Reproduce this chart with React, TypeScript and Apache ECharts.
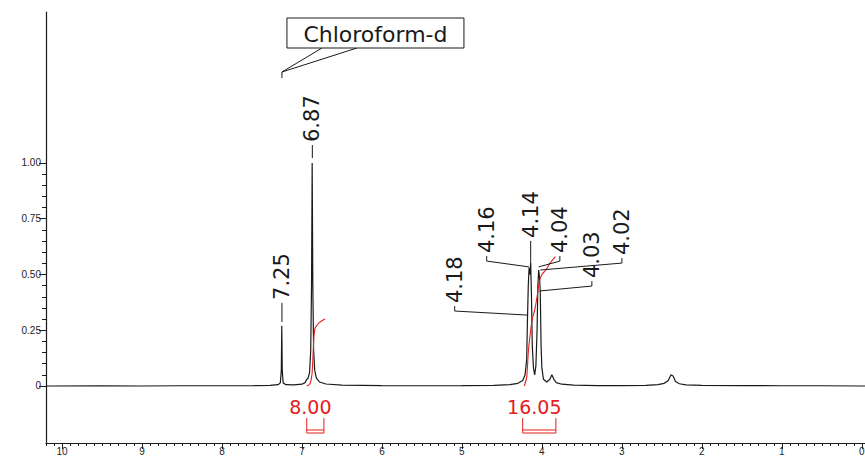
import React, { useEffect, useRef } from 'react';
import * as echarts from 'echarts';

// 1H NMR spectrum (chemical shift in ppm, normalized intensity)
const spectrum: [number, number][] = [
  [10.2, 0.0], [9.5, 0.001], [9.0, 0.0], [8.5, 0.001], [8.0, 0.001], [7.6, 0.002],
  [7.4, 0.003], [7.3, 0.006], [7.27, 0.014], [7.258, 0.07], [7.252, 0.27], [7.246, 0.07],
  [7.235, 0.014], [7.2, 0.006], [7.1, 0.005], [7.0, 0.008], [6.96, 0.015], [6.94, 0.03],
  [6.925, 0.033], [6.905, 0.06], [6.89, 0.16], [6.88, 0.45], [6.872, 1.0], [6.864, 0.45],
  [6.854, 0.16], [6.84, 0.07], [6.82, 0.035], [6.78, 0.018], [6.7, 0.009], [6.5, 0.004],
  [6.0, 0.002], [5.5, 0.001], [5.0, 0.002], [4.6, 0.003], [4.4, 0.006], [4.3, 0.012],
  [4.24, 0.025], [4.21, 0.05], [4.19, 0.12], [4.18, 0.3], [4.17, 0.45], [4.16, 0.53],
  [4.15, 0.5], [4.14, 0.55], [4.13, 0.4], [4.12, 0.18], [4.105, 0.08], [4.09, 0.05],
  [4.075, 0.09], [4.06, 0.25], [4.05, 0.45], [4.04, 0.52], [4.03, 0.49], [4.02, 0.42],
  [4.01, 0.18], [4.0, 0.08], [3.98, 0.03], [3.94, 0.018], [3.9, 0.03], [3.875, 0.05],
  [3.85, 0.03], [3.82, 0.015], [3.75, 0.008], [3.6, 0.004], [3.3, 0.002], [3.0, 0.002],
  [2.7, 0.003], [2.55, 0.006], [2.47, 0.012], [2.42, 0.025], [2.385, 0.05], [2.36, 0.045],
  [2.33, 0.02], [2.28, 0.01], [2.2, 0.005], [2.0, 0.003], [1.5, 0.002], [1.0, 0.001],
  [0.5, 0.001], [0.0, 0.0], [-0.04, 0.0],
];

// integral curves (red)
const integralA: [number, number][] = [
  [6.94, 0.0], [6.9, 0.01], [6.875, 0.05], [6.86, 0.15], [6.85, 0.22], [6.835, 0.26],
  [6.8, 0.278], [6.76, 0.29], [6.71, 0.3],
];
const integralB: [number, number][] = [
  [4.22, 0.0], [4.19, 0.04], [4.17, 0.15], [4.15, 0.22], [4.12, 0.3], [4.09, 0.34],
  [4.06, 0.4], [4.03, 0.47], [4.0, 0.5], [3.95, 0.52], [3.9, 0.55], [3.83, 0.58],
];

// integration ranges and values
const integrationValues = ['8.00', '16.05'];
const integrationFrom = [6.94, 4.24];
const integrationTo = [6.725, 3.825];

// peak picking
const peakLabels = ['7.25', '6.87', '4.18', '4.16', '4.14', '4.04', '4.03', '4.02'];
const peakShift = [7.25, 6.87, 4.18, 4.16, 4.14, 4.04, 4.03, 4.02];
const peakLeaderEnd = [0.287, 1.022, 0.318, 0.534, 0.543, 0.534, 0.426, 0.52];
// where each rotated label sits (ppm, intensity of its lower end)
const peakLabelShift = [7.25, 6.87, 5.09, 4.69, 4.14, 3.775, 3.375, 3.0];
const peakLabelBase = [0.386, 1.094, 0.372, 0.596, 0.664, 0.596, 0.484, 0.587];

// solvent annotation
const solventName = 'Chloroform-d';
const solventShift = 7.25;
const solventAnchor = 1.381;

// axes
const xTickValues = [10, 9, 8, 7, 6, 5, 4, 3, 2, 1, 0];
const xTickLabels = ['10', '9', '8', '7', '6', '5', '4', '3', '2', '1', '0'];
const yTickValues = [0, 0.25, 0.5, 0.75, 1.0];
const yTickLabels = ['0', '0.25', '0.50', '0.75', '1.00'];

const X_MIN = -0.04;
const X_MAX = 10.2;
const Y_MIN = -0.2556;
const Y_MAX = 1.677;

const xMinor: number[] = [];
for (let i = 0; i <= 102; i++) if (i % 10 !== 0) xMinor.push(i / 10);
const yMinor: number[] = [];
for (let i = 0; i <= 20; i++) if (i % 5 !== 0) yMinor.push(i / 20);

const INK = '#1a1a1a';
const RED = '#e3201b';
const FONT = 'DejaVu Sans';
const AXFONT = 'Liberation Sans';

export default function App() {
  const ref = useRef<HTMLDivElement>(null);

  useEffect(() => {
    if (!ref.current) return;
    const chart = echarts.init(ref.current, undefined, { renderer: 'svg' });

    const option: any = {
      animation: false,
      backgroundColor: '#ffffff',
      grid: { left: 46, right: 0, top: 12, bottom: 16, containLabel: false, outerBoundsMode: 'none' },
      xAxis: [
        {
          type: 'value', inverse: true, min: X_MIN, max: X_MAX, position: 'bottom',
          axisLine: { show: true, onZero: false, lineStyle: { color: INK, width: 1.2 } },
          axisTick: { show: true, customValues: xTickValues, length: 6, lineStyle: { color: INK } },
          axisLabel: {
            customValues: xTickValues, fontSize: 10, color: '#222', margin: 3, fontFamily: AXFONT,
            formatter: (v: number) => xTickLabels[xTickValues.indexOf(v)] ?? '',
          },
          splitLine: { show: false },
        },
        {
          type: 'value', inverse: true, min: X_MIN, max: X_MAX, position: 'bottom', offset: 0,
          axisLine: { show: false, onZero: false },
          axisTick: { show: true, customValues: xMinor, length: 3, lineStyle: { color: INK } },
          axisLabel: { show: false },
          splitLine: { show: false },
        },
      ],
      yAxis: [
        {
          type: 'value', min: Y_MIN, max: Y_MAX, position: 'left',
          axisLine: { show: true, onZero: false, lineStyle: { color: INK, width: 1.2 } },
          axisTick: { show: true, customValues: yTickValues, length: 7, lineStyle: { color: INK } },
          axisLabel: {
            customValues: yTickValues, fontSize: 10, color: '#222', margin: 5, fontFamily: AXFONT,
            formatter: (v: number) => {
              const i = yTickValues.findIndex((t) => Math.abs(t - v) < 1e-9);
              return i >= 0 ? yTickLabels[i] : '';
            },
          },
          splitLine: { show: false },
        },
        {
          type: 'value', min: Y_MIN, max: Y_MAX, position: 'left', offset: 0,
          axisLine: { show: false, onZero: false },
          axisTick: { show: true, customValues: yMinor, length: 4, lineStyle: { color: INK } },
          axisLabel: { show: false },
          splitLine: { show: false },
        },
      ],
      series: [
        {
          type: 'line', name: 'spectrum', data: spectrum, showSymbol: false, symbol: 'none',
          lineStyle: { color: INK, width: 1.2 }, silent: true, z: 3, clip: true,
        },
        {
          type: 'line', name: 'integral A', data: integralA, showSymbol: false, symbol: 'none',
          smooth: 0.3, lineStyle: { color: RED, width: 1.1 }, silent: true, z: 4,
        },
        {
          type: 'line', name: 'integral B', data: integralB, showSymbol: false, symbol: 'none',
          smooth: 0.3, lineStyle: { color: RED, width: 1.1 }, silent: true, z: 4,
        },
        {
          type: 'custom', name: 'peak labels', coordinateSystem: 'cartesian2d', silent: true, clip: false, z: 5,
          encode: { x: [0, 2], y: [1, 3] },
          data: peakLabels.map((_, i) => [peakShift[i], peakLeaderEnd[i], peakLabelShift[i], peakLabelBase[i]]),
          renderItem: (params: any, api: any) => {
            const end = api.coord([api.value(0), api.value(1)]);
            const lbl = api.coord([api.value(2), api.value(3)]);
            const straight = Math.abs(end[0] - lbl[0]) < 1.5;
            const elbowY = straight ? end[1] : lbl[1] + 8;
            const children: any[] = [
              {
                type: 'text', x: lbl[0], y: lbl[1], rotation: Math.PI / 2,
                style: {
                  text: peakLabels[params.dataIndex], fontSize: 21, fontFamily: FONT,
                  fill: INK, align: 'left', verticalAlign: 'middle',
                },
              },
              {
                type: 'line',
                shape: { x1: lbl[0], y1: lbl[1] + 3, x2: lbl[0], y2: elbowY },
                style: { stroke: INK, lineWidth: 1 },
              },
            ];
            if (!straight) {
              children.push({
                type: 'line',
                shape: { x1: lbl[0], y1: elbowY, x2: end[0], y2: end[1] },
                style: { stroke: INK, lineWidth: 1 },
              });
            }
            return { type: 'group', children };
          },
        },
        {
          type: 'custom', name: 'integrations', coordinateSystem: 'cartesian2d', silent: true, clip: false, z: 5,
          encode: { x: [0, 1], y: 2 },
          data: integrationValues.map((_, i) => [integrationFrom[i], integrationTo[i], 0]),
          renderItem: (params: any, api: any) => {
            const a = api.coord([api.value(0), api.value(2)]);
            const b = api.coord([api.value(1), api.value(2)]);
            const base = a[1];
            const top = base + 32;
            const bot = base + 47;
            const cx = (a[0] + b[0]) / 2 - 5;
            return {
              type: 'group',
              children: [
                {
                  type: 'text', x: cx, y: base + 21,
                  style: {
                    text: integrationValues[params.dataIndex], fontSize: 19, fontFamily: FONT,
                    fill: RED, align: 'center', verticalAlign: 'middle',
                  },
                },
                {
                  type: 'polyline',
                  shape: { points: [[a[0], top], [a[0], bot], [b[0], bot], [b[0], top]] },
                  style: { stroke: RED, lineWidth: 1, fill: 'none' },
                },
                {
                  type: 'line',
                  shape: { x1: a[0], y1: bot - 3, x2: b[0], y2: bot - 3 },
                  style: { stroke: RED, lineWidth: 1 },
                },
              ],
            };
          },
        },
        {
          type: 'custom', name: 'solvent', coordinateSystem: 'cartesian2d', silent: true, clip: false, z: 5,
          encode: { x: 0, y: 1 },
          data: [[solventShift, solventAnchor]],
          renderItem: (_params: any, api: any) => {
            const p = api.coord([api.value(0), api.value(1)]);
            const ax = p[0];
            const ay = p[1];
            const boxL = ax + 5;
            const boxT = ay - 60;
            const boxW = 177;
            const boxH = 30;
            return {
              type: 'group',
              children: [
                { type: 'line', shape: { x1: ax, y1: ay, x2: ax, y2: ay - 6 }, style: { stroke: INK, lineWidth: 1 } },
                { type: 'line', shape: { x1: ax, y1: ay - 6, x2: ax + 40, y2: boxT + boxH }, style: { stroke: INK, lineWidth: 1 } },
                { type: 'line', shape: { x1: ax, y1: ay - 6, x2: ax + 75, y2: boxT + boxH }, style: { stroke: INK, lineWidth: 1 } },
                {
                  type: 'rect', shape: { x: boxL, y: boxT, width: boxW, height: boxH },
                  style: { stroke: INK, lineWidth: 1, fill: '#fff' },
                },
                {
                  type: 'text', x: boxL + boxW / 2, y: boxT + boxH / 2 + 1,
                  style: {
                    text: solventName, fontSize: 22, fontFamily: FONT, fill: INK,
                    align: 'center', verticalAlign: 'middle',
                  },
                },
              ],
            };
          },
        },
      ],
    };

    chart.setOption(option);
    return () => chart.dispose();
  }, []);

  return (
    <div
      ref={ref}
      style={{ position: 'absolute', left: 0, top: 0, width: 865, height: 459, background: '#fff' }}
    />
  );
}
